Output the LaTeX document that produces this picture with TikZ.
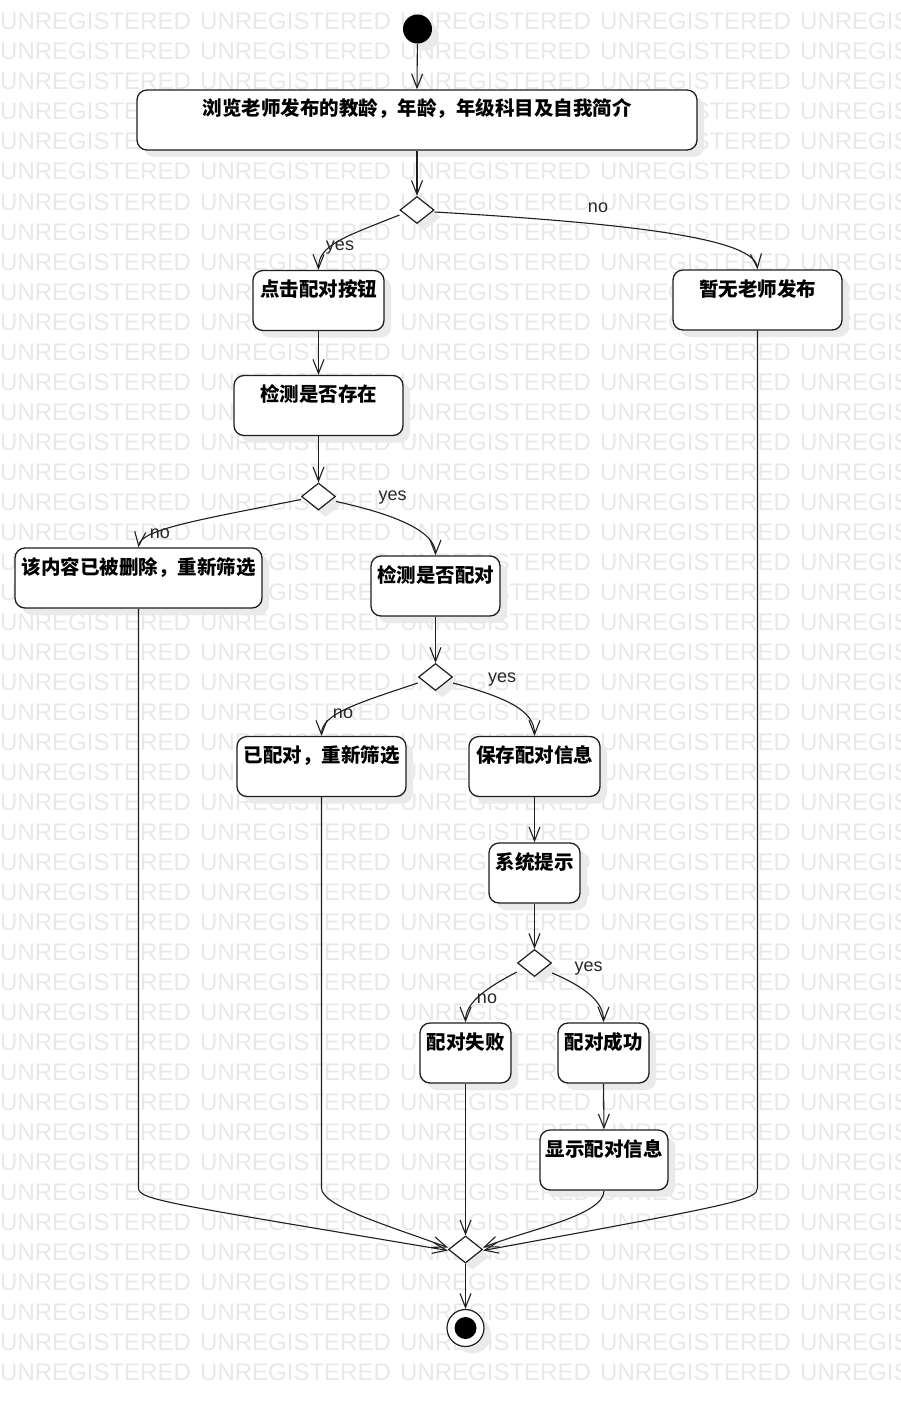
\documentclass[tikz,border=0pt]{standalone}
\usepackage{fontspec}
\newfontfamily\cjk{Noto Sans CJK SC}
\newfontfamily\arialf{Liberation Sans}
\usetikzlibrary{shapes.geometric,arrows.meta,shadows}
\definecolor{wmgray}{RGB}{232,232,232}
\definecolor{shadowgray}{RGB}{234,234,234}
\definecolor{linecol}{RGB}{30,30,30}

\tikzset{
  wm/.style={font=\arialf\fontsize{24}{24}\selectfont, text=wmgray, inner sep=0pt, anchor=base west},
  shade box/.style={drop shadow={shadow xshift=7pt, shadow yshift=-7pt, fill=shadowgray, opacity=1}},
  act/.style={draw=linecol, line width=1.3pt, rounded corners=10pt, fill=white, inner sep=0pt,
    font=\cjk\bfseries\fontsize{19.5}{20}\selectfont, text height=26pt, text depth=34pt,
    minimum height=60pt, shade box},
  decide/.style={shape=diamond, draw=linecol, line width=1.2pt, fill=white, inner sep=0pt,
    minimum width=34pt, minimum height=27pt, shade box},
  startnode/.style={circle, fill=black, inner sep=0pt, minimum size=29pt, shade box},
  endnode/.style={circle, draw=linecol, line width=1.2pt, fill=white, inner sep=0pt, minimum size=37pt,
    shade box, path picture={\fill[black] (path picture bounding box.center) circle (11pt);}},
  flow/.style={draw=linecol, line width=1.1pt, -{Straight Barb[length=14pt,width=11pt,line width=1.1pt]}},
  lbl/.style={font=\arialf\fontsize{18}{18}\selectfont, text=black!85, inner sep=0pt, anchor=base},
}

\begin{document}
\begin{tikzpicture}[x=1pt, y=-1pt]
\useasboundingbox (0,0) rectangle (901,1407);

% background watermark rows
\begin{scope}
  \clip (0,0) rectangle (901,1407);
  \foreach \r in {0,...,45}{
    \foreach \c in {0,...,4}{
      \node[wm] (wm-\r-\c) at ({200*\c},{30+30*\r}) {UNREGISTERED};
    }
  }
\end{scope}

% activities
\node[startnode] (init) at (417.5,29) {};
\node[act, minimum width=560pt] (b1) at (417,120) {浏览老师发布的教龄，年龄，年级科目及自我简介};
\node[decide] (d1) at (417,210) {};
\node[act, minimum width=169pt] (b2) at (757.5,300) {暂无老师发布};
\node[act, minimum width=131pt] (b3) at (318.5,300.5) {点击配对按钮};
\node[act, minimum width=169pt] (b4) at (318.5,405.5) {检测是否存在};
\node[decide] (d2) at (318.5,496.5) {};
\node[act, minimum width=247pt] (b5) at (138.5,578) {该内容已被删除，重新筛选};
\node[act, minimum width=129pt] (b6) at (435.5,586) {检测是否配对};
\node[decide] (d3) at (435.5,677) {};
\node[act, minimum width=169pt] (b7) at (321.5,766.5) {已配对，重新筛选};
\node[act, minimum width=131pt] (b8) at (534.5,766.5) {保存配对信息};
\node[act, minimum width=91pt] (b9) at (534.5,873) {系统提示};
\node[decide] (d4) at (534.5,963) {};
\node[act, minimum width=91pt] (b10) at (465.5,1053) {配对失败};
\node[act, minimum width=91pt] (b11) at (603.5,1053) {配对成功};
\node[act, minimum width=128pt] (b12) at (604,1160) {显示配对信息};
\node[decide] (merge) at (465.5,1249.5) {};
\node[endnode] (fin) at (465.5,1328) {};

\coordinate (joinrow) at (0,1188);

% straight flows
\draw[flow] (init) -- (b1.north);
\draw[flow] (b1.south) -- (d1.north);
\draw[flow] (b3.south) -- (b4.north);
\draw[flow] (b4.south) -- (d2.north);
\draw[flow] (b6.south) -- (d3.north);
\draw[flow] (b8.south) -- (b9.north);
\draw[flow] (b9.south) -- (d4.north);
\draw[flow] (b11.south) -- (b12.north);
\draw[flow] (b10.south) -- (merge.north);
\draw[flow] (merge.south) -- (fin.north);

% branches
\draw[flow] ([yshift=-2pt]d1.east) .. controls +(206,12) and +(-3,-30) .. (b2.north);
\draw[flow] ([yshift=-5pt]d1.west) .. controls +(-55,22) and +(0,-25) .. (b3.north);
\draw[flow] ([yshift=-3pt]d2.west) .. controls +(-100,20) and +(2,-18) .. (b5.north);
\draw[flow] ([yshift=-5pt]d2.east) .. controls +(55,12) and +(0,-25) .. (b6.north);
\draw[flow] ([yshift=-6pt]d3.west) .. controls +(-60,20) and +(0,-22) .. (b7.north);
\draw[flow] ([yshift=-6pt]d3.east) .. controls +(55,15) and +(0,-25) .. (b8.north);
\draw[flow] ([yshift=-9pt]d4.west) .. controls +(-35,18) and +(0,-18) .. (b10.north);
\draw[flow] ([yshift=-10pt]d4.east) .. controls +(35,15) and +(0,-20) .. (b11.north);

% joins into the final merge
\draw[flow] (b5.south) -- (b5.south |- joinrow) .. controls +(0,12) and +(-279,-47) .. ([yshift=-1pt]merge.west);
\draw[flow] (b7.south) -- (b7.south |- joinrow) .. controls +(0,18) and +(-60,-22) .. ([yshift=2pt]merge.west);
\draw[flow] (b2.south) -- (b2.south |- joinrow) .. controls +(0,12) and +(250,-46) .. ([yshift=-1pt]merge.east);
\draw[flow] (b12.south) .. controls +(0,25) and +(45,-18) .. ([yshift=2pt]merge.east);

% guard labels
\node[lbl] (l1) at (598,212) {no};
\node[lbl] (l2) at (340,250) {yes};
\node[lbl] (l3) at (392.5,500) {yes};
\node[lbl] (l4) at (160,538) {no};
\node[lbl] (l5) at (502,682) {yes};
\node[lbl] (l6) at (343,718) {no};
\node[lbl] (l7) at (588.5,971) {yes};
\node[lbl] (l8) at (487,1003) {no};
\end{tikzpicture}
\end{document}
